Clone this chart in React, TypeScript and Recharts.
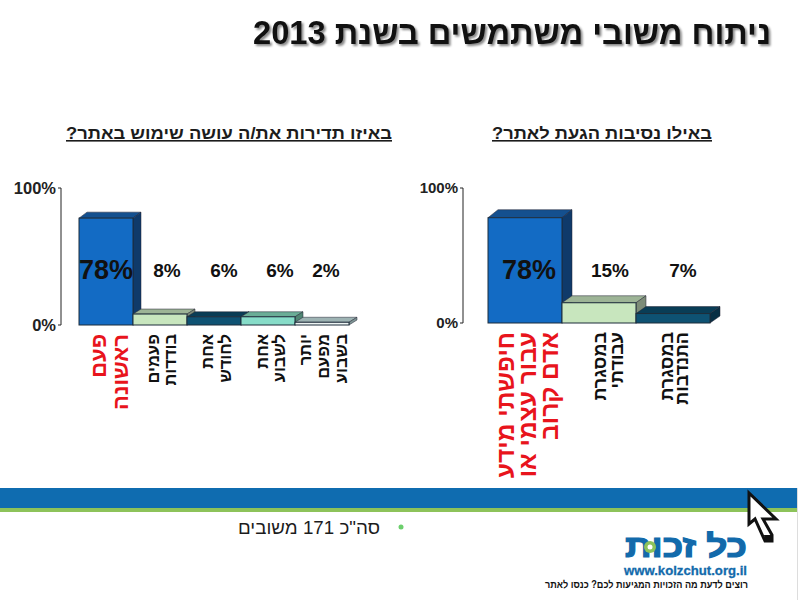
import React from 'react';
import { BarChart, Bar, XAxis, YAxis, LabelList } from 'recharts';

const leftCategories = ['פעם\nראשונה', 'פעמים\nבודדות', 'אחת\nלחודש', 'אחת\nלשבוע', 'יותר\nמפעם\nבשבוע'];
const leftValues = [78, 8, 6, 6, 2];
const rightCategories = ['חיפשתי מידע\nעבור עצמי או\nאדם קרוב', 'במסגרת\nעבודתי', 'במסגרת\nהתנדבות'];
const rightValues = [78, 15, 7];
const yTicks = [0, 100];

const leftData = leftCategories.map((name, i) => ({ name, value: leftValues[i] }));
const rightData = rightCategories.map((name, i) => ({ name, value: rightValues[i] }));

// front, top, side
const leftPalette = [
  ['#136BC4', '#14508F', '#0F3A6A'],
  ['#C8E6BE', '#9DB496', '#7D8C78'],
  ['#0E5273', '#093D56', '#082F44'],
  ['#86DCC8', '#6AAD97', '#4F8573'],
  ['#EEF5F4', '#9DB3B3', '#7F9696']
];
const rightPalette = [leftPalette[0], leftPalette[1], leftPalette[2]];

const FONT = '"Liberation Sans", Arial, sans-serif';
const TEXT = '#1c1c1c';

const makeBar = (palette: string[][], depths: number[][]) => (props: any) => {
  const { x, y, width, height, index } = props;
  const [front, top, side] = palette[index];
  const [dx, dy] = depths[index];
  const r = x + width;
  const b = y + height;
  return (
    <g>
      <polygon points={`${x},${y} ${x + dx},${y - dy} ${r + dx},${y - dy} ${r},${y}`} fill={top} stroke="#223" strokeWidth={0.5} />
      <polygon points={`${r},${y} ${r + dx},${y - dy} ${r + dx},${b - dy} ${r},${b}`} fill={side} stroke="#223" strokeWidth={0.5} />
      <rect x={x} y={y} width={width} height={height} fill={front} stroke="#1d2c3a" strokeWidth={1} />
    </g>
  );
};

const makeTick = (shift: number[], step: number[], big: number, small: number) => (props: any) => {
  const { x, y, index, payload } = props;
  const lines = String(payload.value).split('\n');
  const first = index === 0;
  return (
    <g>
      {lines.map((line, i) => {
        const cx = x + shift[index] + i * step[index];
        return (
          <text
            key={i}
            transform={`rotate(-90 ${cx} ${y})`}
            x={cx}
            y={y}
            textAnchor="end"
            dominantBaseline="central"
            fontFamily={FONT}
            fontWeight="bold"
            fontSize={first ? big : small}
            fill={first ? '#E8141C' : '#111'}
          >
            {line}
          </text>
        );
      })}
    </g>
  );
};

const makeLabel = (labelY: number, nudge: number[]) => (props: any) => {
  const { x, width, value, index } = props;
  return (
    <text
      x={x + width / 2 + nudge[index]}
      y={labelY}
      textAnchor="middle"
      dominantBaseline="central"
      fontFamily={FONT}
      fontWeight="bold"
      fontSize={index === 0 ? 27 : 19}
      fill="#111"
    >
      {value}%
    </text>
  );
};

const axisTick = (size: number) => ({ fontFamily: FONT, fontWeight: 'bold', fontSize: size, fill: '#222' });

const Overlay = () => (
  <svg width={800} height={600} style={{ position: 'absolute', left: 0, top: 0, pointerEvents: 'none' }}>
    <text x={771} y={44} direction="rtl" textLength={518} lengthAdjust="spacingAndGlyphs" fontFamily={FONT} fontWeight="bold" fontSize={33} fill="#111" style={{ filter: 'drop-shadow(2px 2px 1px #888)' }}>
      ניתוח משובי משתמשים בשנת 2013
    </text>
    <text x={712} y={139} direction="rtl" textLength={220} lengthAdjust="spacingAndGlyphs" fontFamily={FONT} fontWeight="bold" fontSize={16} fill={TEXT} textDecoration="underline">
      באילו נסיבות הגעת לאתר?
    </text>
    <text x={392} y={139} direction="rtl" textLength={326} lengthAdjust="spacingAndGlyphs" fontFamily={FONT} fontWeight="bold" fontSize={16} fill={TEXT} textDecoration="underline">
      באיזו תדירות את/ה עושה שימוש באתר?
    </text>

    <rect x={0} y={488} width={797} height={20} fill="#0F6CB0" />
    <rect x={0} y={508} width={797} height={4} fill="#8DC35A" />
    <rect x={797} y={488} width={1} height={112} fill="#dddddd" />

    <circle cx={401} cy={527} r={2.5} fill="#6CCF6C" />
    <text x={380} y={534} direction="rtl" textLength={142} lengthAdjust="spacingAndGlyphs" fontFamily={FONT} fontSize={18} fill={TEXT}>
      סה"כ 171 משובים
    </text>

    <text x={747} y={557} direction="rtl" textLength={122} lengthAdjust="spacingAndGlyphs" fontFamily={FONT} fontWeight="bold" fontSize={31} fill="#126AAB" stroke="#126AAB" strokeWidth={1.2}>
      כל זכות
    </text>
    <circle cx={650} cy={547} r={6} fill="#8DC35A" />
    <circle cx={650} cy={547} r={2.5} fill="#ffffff" />
    <text x={624} y={575} textLength={123} lengthAdjust="spacingAndGlyphs" fontFamily={FONT} fontWeight="bold" fontSize={13} fill="#126AAB" stroke="#126AAB" strokeWidth={0.3}>
      www.kolzchut.org.il
    </text>
    <text x={748} y={588} direction="rtl" textLength={203} lengthAdjust="spacingAndGlyphs" fontFamily={FONT} fontWeight="bold" fontSize={10.5} fill="#111">
      רוצים לדעת מה הזכויות המגיעות לכם? כנסו לאתר
    </text>

    <polygon points="749,493 749,524 755,519 765,541 772,541 772,535 763,519 776,519" fill="#fff" stroke="#111" strokeWidth={3} />
    <polygon points="764,535 772,535 773,542 765,542" fill="#111" />
  </svg>
);

export default function App() {
  return (
    <div style={{ position: 'absolute', left: 0, top: 0, width: 800, height: 600, background: '#fff', overflow: 'hidden' }}>
      <div style={{ position: 'absolute', left: 0, top: 170 }}>
        <BarChart width={400} height={300} data={leftData} barCategoryGap={0} margin={{ top: 18, right: 51, bottom: 5, left: 0 }} style={{ overflow: 'visible' }}>
          <XAxis dataKey="name" axisLine={false} tickLine={false} height={140} interval={0} padding={{ left: 18, right: 0 }} tickMargin={3}
            tick={makeTick([-8, -7, -7, -6, -17], [22, 17, 18, 17, 18], 22, 16.5)} />
          <YAxis width={61} domain={[0, 100]} ticks={yTicks} tickFormatter={(v) => `${v}%`} tickSize={3} tickMargin={2} tick={axisTick(16.5)} stroke="#222" />
          <Bar dataKey="value" isAnimationActive={false} shape={makeBar(leftPalette, [[8, 6], [8, 5], [8, 5], [8, 5], [8, 5]])}>
            <LabelList dataKey="value" content={makeLabel(100, [0, 7, 10, 12, 4])} />
          </Bar>
        </BarChart>
      </div>
      <div style={{ position: 'absolute', left: 400, top: 170 }}>
        <BarChart width={400} height={330} data={rightData} barCategoryGap={0} margin={{ top: 18, right: 90, bottom: 7, left: 0 }} style={{ overflow: 'visible' }}>
          <XAxis dataKey="name" axisLine={false} tickLine={false} height={170} interval={0} padding={{ left: 25, right: 0 }} tickMargin={3}
            tick={makeTick([-20, 1, -6], [22, 17, 15], 24.5, 18)} />
          <YAxis width={63} domain={[0, 100]} ticks={yTicks} tickFormatter={(v) => `${v}%`} tickSize={3} tickMargin={2} tick={axisTick(15)} stroke="#222" />
          <Bar dataKey="value" isAnimationActive={false} shape={makeBar(rightPalette, [[10, 8], [10, 7], [10, 7]])}>
            <LabelList dataKey="value" content={makeLabel(100, [4, 11, 10])} />
          </Bar>
        </BarChart>
      </div>
      <Overlay />
    </div>
  );
}
